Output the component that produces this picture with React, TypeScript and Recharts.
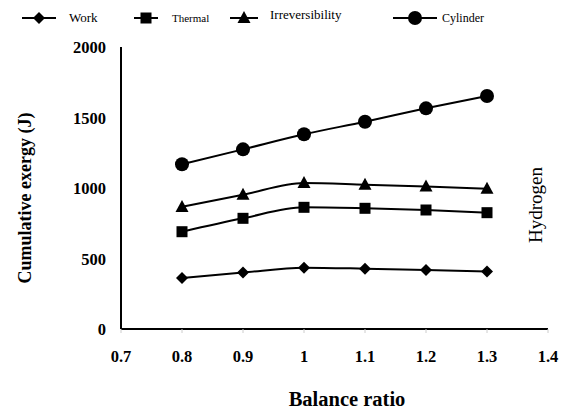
import { LineChart, Line, XAxis, YAxis, Label } from 'recharts'

const ratios = [0.8, 0.9, 1.0, 1.1, 1.2, 1.3]
const work = [362, 400, 435, 428, 418, 408]
const thermal = [690, 785, 863, 856, 844, 825]
const irreversibility = [866, 952, 1035, 1023, 1010, 995]
const cylinder = [1168, 1274, 1381, 1470, 1565, 1652]
const xTicks = [0.7, 0.8, 0.9, 1.0, 1.1, 1.2, 1.3, 1.4]
const yTicks = [0, 500, 1000, 1500, 2000]

const FONT = "'Times New Roman', 'Liberation Serif', serif"

const data = ratios.map((r, i) => ({
  ratio: r,
  work: work[i],
  thermal: thermal[i],
  irreversibility: irreversibility[i],
  cylinder: cylinder[i],
}))

type Shape = 'diamond' | 'square' | 'triangle' | 'circle'

function Marker({ cx, cy, shape }: { cx: number; cy: number; shape: Shape }) {
  if (cx == null || cy == null) return null
  if (shape === 'diamond') {
    return <polygon points={`${cx},${cy - 6} ${cx + 6},${cy} ${cx},${cy + 6} ${cx - 6},${cy}`} fill="#000" />
  }
  if (shape === 'square') {
    return <rect x={cx - 5.5} y={cy - 5.5} width={11} height={11} fill="#000" />
  }
  if (shape === 'triangle') {
    return <polygon points={`${cx},${cy - 7} ${cx + 6.5},${cy + 5} ${cx - 6.5},${cy + 5}`} fill="#000" />
  }
  return <circle cx={cx} cy={cy} r={7} fill="#000" />
}

const makeDot = (shape: Shape) => (props: any) => (
  <Marker key={`${shape}-${props.index}`} cx={props.cx} cy={props.cy} shape={shape} />
)

const legendItems: Array<{ name: string; shape: Shape; lineX: number; lineW: number; textX: number; size: number; dy: number }> = [
  { name: 'Work', shape: 'diamond', lineX: 22, lineW: 34, textX: 69, size: 13, dy: 0 },
  { name: 'Thermal', shape: 'square', lineX: 134, lineW: 24, textX: 172, size: 11, dy: 0 },
  { name: 'Irreversibility', shape: 'triangle', lineX: 230, lineW: 28, textX: 270, size: 13, dy: -3 },
  { name: 'Cylinder', shape: 'circle', lineX: 393, lineW: 44, textX: 442, size: 12, dy: 0 },
]

const XTick = ({ x, y, payload }: any) => (
  <text x={x} y={y + 27} textAnchor="middle" fontFamily={FONT} fontWeight="bold" fontSize={16.5} fill="#000">
    {Number(payload.value.toFixed(1)) === 1 ? '1' : payload.value.toFixed(1)}
  </text>
)

const YTick = ({ x, y, payload }: any) => (
  <text x={x - 7} y={y + 6} textAnchor="end" fontFamily={FONT} fontWeight="bold" fontSize={16.5} fill="#000">
    {payload.value}
  </text>
)

export default function App() {
  return (
    <div style={{ position: 'absolute', left: 0, top: 0, width: 565, height: 412, background: '#fff', fontFamily: FONT }}>
      <LineChart
        width={565}
        height={412}
        data={data}
        margin={{ top: 47, right: 17, left: 61, bottom: 53 }}
      >
        <XAxis
          dataKey="ratio"
          type="number"
          domain={[0.7, 1.4]}
          ticks={xTicks}
          interval={0}
          height={30}
          axisLine={{ stroke: '#000', strokeWidth: 2 }}
          tickLine={{ stroke: '#ccc' }}
          tickSize={4}
          tick={<XTick />}
        />
        <YAxis
          type="number"
          domain={[0, 2000]}
          ticks={yTicks}
          interval={0}
          width={60}
          axisLine={{ stroke: '#000', strokeWidth: 2 }}
          tickLine={false}
          tick={<YTick />}
        >
          <Label
            value="Cumulative exergy (J)"
            angle={-90}
            position="insideLeft"
            offset={-36}
            dy={10}
            style={{ textAnchor: 'middle', fontFamily: FONT, fontWeight: 'bold', fontSize: 18, fill: '#000' }}
          />
        </YAxis>
        <Line type="monotone" dataKey="work" stroke="#000" strokeWidth={2} dot={makeDot('diamond')} activeDot={false} isAnimationActive={false} />
        <Line type="monotone" dataKey="thermal" stroke="#000" strokeWidth={2} dot={makeDot('square')} activeDot={false} isAnimationActive={false} />
        <Line type="monotone" dataKey="irreversibility" stroke="#000" strokeWidth={2} dot={makeDot('triangle')} activeDot={false} isAnimationActive={false} />
        <Line type="monotone" dataKey="cylinder" stroke="#000" strokeWidth={2} dot={makeDot('circle')} activeDot={false} isAnimationActive={false} />
      </LineChart>
      <svg width={565} height={412} style={{ position: 'absolute', left: 0, top: 0, pointerEvents: 'none' }}>
        {legendItems.map((it) => (
          <g key={it.name}>
            <line x1={it.lineX} y1={18} x2={it.lineX + it.lineW} y2={18} stroke="#000" strokeWidth={2} />
            <Marker cx={it.lineX + it.lineW / 2} cy={18} shape={it.shape} />
            <text x={it.textX} y={22 + it.dy} fontFamily={FONT} fontSize={it.size} fill="#000">
              {it.name}
            </text>
          </g>
        ))}
        <text x={347} y={406} textAnchor="middle" fontFamily={FONT} fontWeight="bold" fontSize={20.5} fill="#000">
          Balance ratio
        </text>
        <text transform="translate(542,205) rotate(-90)" textAnchor="middle" fontFamily={FONT} fontSize={19} fill="#000">
          Hydrogen
        </text>
      </svg>
    </div>
  )
}
